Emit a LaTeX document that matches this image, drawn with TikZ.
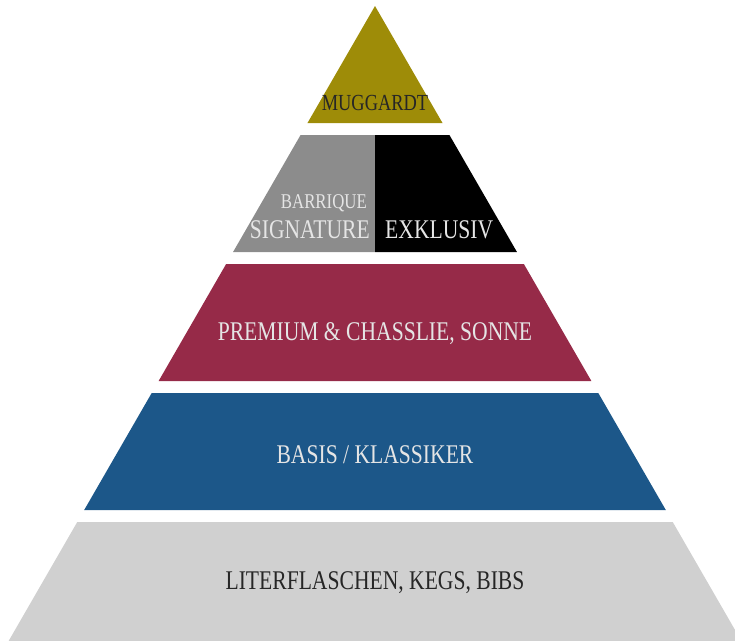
\documentclass[tikz,border=0pt]{standalone}
\usepackage{fontspec}
\setmainfont{Liberation Serif}[FakeStretch=0.8]
\usepackage{xcolor}
\usepackage{tikz}

\definecolor{gold}{RGB}{158,140,8}
\definecolor{barriquegray}{RGB}{140,140,140}
\definecolor{premiumred}{RGB}{150,42,72}
\definecolor{basisblue}{RGB}{28,87,137}
\definecolor{literlight}{RGB}{208,208,208}

\begin{document}
\begin{tikzpicture}[x=1pt, y=-1pt,
	every node/.style={inner sep=0pt, font=\fontsize{27}{27}\selectfont},
	lighttext/.style={text=white!90!black},
	darktext/.style={text=black!85}]
		
		\useasboundingbox (0,0) rectangle (735,640);
		\clip (0,0) rectangle (735,640);
		
		%//apex at (375,6), sides at 30 degrees
		\def\cx{375}
		\def\sl{0.577}
		
		\fill[gold] (\cx,6) -- ({\cx+117*\sl},123) -- ({\cx-117*\sl},123) -- cycle;
		
		\fill[barriquegray] ({\cx-129*\sl},135) -- (\cx,135) -- (\cx,252) -- ({\cx-246*\sl},252) -- cycle;
		\fill[black] (\cx,135) -- ({\cx+129*\sl},135) -- ({\cx+246*\sl},252) -- (\cx,252) -- cycle;
		
		\foreach \yt/\yb/\col in {264/381/premiumred, 393/510/basisblue, 522/650/literlight}
		\fill[\col] ({\cx-(\yt-6)*\sl},\yt) -- ({\cx+(\yt-6)*\sl},\yt) -- ({\cx+(\yb-6)*\sl},\yb) -- ({\cx-(\yb-6)*\sl},\yb) -- cycle;
		
		\node [darktext, anchor=base, font=\fontsize{23}{23}\selectfont] (muggardt) at (\cx,110) {MUGGARDT};
		\node [lighttext, anchor=base east, font=\fontsize{21}{21}\selectfont] (barrique) at (367,208) {BARRIQUE};
		\node [lighttext, anchor=base east] (signature) at (370,238) {SIGNATURE};
		\node [lighttext, anchor=base west] (exklusiv) at (385,238) {EXKLUSIV};
		\node [lighttext, anchor=base] (premium) at (\cx,340) {PREMIUM \& CHASSLIE, SONNE};
		\node [lighttext, anchor=base] (basis) at (\cx,463) {BASIS / KLASSIKER};
		\node [darktext, anchor=base] (liter) at (\cx,589) {LITERFLASCHEN, KEGS, BIBS};
		
\end{tikzpicture}
\end{document}
